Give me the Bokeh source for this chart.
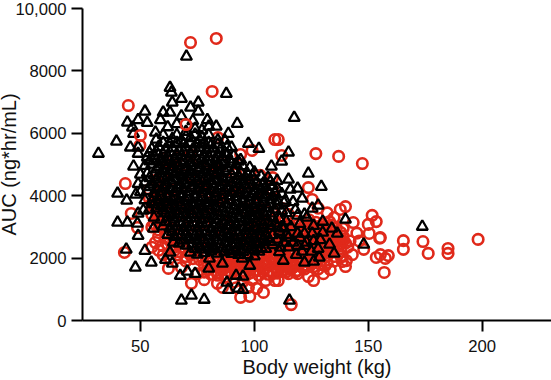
import math
from bokeh.plotting import figure
from bokeh.models import Range1d, FixedTicker
from bokeh.embed import file_html
from bokeh.resources import INLINE

x_ticks = [50, 100, 150, 200]
y_ticks = [0, 2000, 4000, 6000, 8000, 10000]
y_labels = {0: "0", 2000: "2000", 4000: "4000", 6000: "6000", 8000: "8000", 10000: "10,000"}
x_title = "Body weight (kg)"
y_title = "AUC (ng*hr/mL)"

red_outer = [(72,8910),(83.3,9040),(81.5,7340),(44.7,6890),(49.8,5610),(84,5860),(109,5800),(94,5320),(99,5450),(43.4,4390),(102.6,4650),(108,4580),
 (110.5,5800),(127,5350),(137,5260),(147.4,5030),(112,5290),(123.7,4260),(125.4,3880),(140,3650),(137.7,3560),(151.7,3370),(153.5,3170),(143.4,3140),(150,3080),(150.4,2790),(155.3,2660),(155,2640),(165.4,2560),(165.4,2280),(174,2530),(176.3,2150),(185,2310),(185,2150),(198.2,2600),(158.8,2080),(155.3,2110),(153.5,2020),(157.5,1990),(157,1540),(148,2280),(143,2110),(140,1730),(140.4,1920),(138.6,1890),(133.3,1630),(130.3,1500),(126,1280),(123.7,1410),(119,1500),(115,1500),(110.5,1280),
 (43,2180),(46,3430),(48.7,2980),(56.6,2500),(55,2350),(59.6,2400),(58,2250),(62.3,1670),(72.4,1190),(78,1310),(83.8,1190),(86,1060),(94,740),(98,770),(104,900),(105,1280),(101,1030),(97.4,1060),(109,1280),(116.2,510),(88,1400),(91,1230),(84,1450),(75,1500),(68,1700),(63,2000),(60,2100),(65,2250),
 (145,2800),(142,2550),(146,2550),(139,2950),(141,2350),(137,2150),(135,1900),(131,1750),(128,1650),(122,1650),(117,1700),(112,1600),(108,1500),(102,1450),(99,1300),(95,1250),(92,1050),(135,3300),(132,3450),(128,3600)]

red_dense = [(100,3200),(103,3150),(106,3100),(109,3210),(112,3140),(115,3080),(118,3190),(121,3120),(124,3230),(127,3150),(130,3090),(133,3170),
 (100,2950),(103,2880),(106,2980),(109,2900),(112,2960),(115,2870),(118,2950),(121,2890),(124,2980),(127,2900),(130,2950),(133,2870),(136,2960),(139,2700),
 (98,2700),(101,2650),(104,2730),(107,2660),(110,2720),(113,2640),(116,2700),(119,2660),(122,2730),(125,2650),(128,2710),(131,2640),(134,2700),(137,2630),(140,2480),
 (96,2450),(99,2400),(102,2480),(105,2410),(108,2470),(111,2390),(114,2450),(117,2410),(120,2480),(123,2400),(126,2460),(129,2390),(132,2450),(135,2400),(138,2300),
 (94,2200),(97,2150),(100,2230),(103,2160),(106,2220),(109,2140),(112,2200),(115,2160),(118,2230),(121,2150),(124,2210),(127,2140),(130,2200),(133,2150),
 (90,1950),(93,1900),(96,1980),(99,1910),(102,1970),(105,1890),(108,1950),(111,1910),(114,1980),(117,1900),(120,1960),(123,1890),(126,1950),(129,1900),
 (82,1750),(85,1700),(88,1780),(91,1710),(94,1770),(97,1690),(100,1750),(103,1710),(106,1780),(109,1700),(112,1760),(115,1690),(118,1750),(121,1700),
 (76,1950),(79,1900),(82,2000),(85,1950),(88,2050),(72,2100),(75,2200),(70,1900),(66,2100),
 (78,1550),(81,1480),(90,1500),(94,1480),(98,1520),(104,1550),
 (55,3000),(57,3200),(59,3000),(55,3400),(58,3500),(56,3700),(59,3800),(54,3900),(57,4050),(60,3300),(61,2800),(58,2700),(62,3050),(64,2700),(66,2500),(68,2350),(62,2450),
 (62,4800),(66,5200),(70,4400),(73,5000),(76,3500),(80,4500),(83,3700),(86,5000),(90,3300),(93,4200),(96,3600),(100,4400),(104,3900),(108,4200),(112,3600),(115,3400),(68,3100),(74,2800),(80,2600),(86,2900),(92,2500),(64,3800),(70,3500),(78,3100),(88,4000),(98,3000)]

red_fill = [(101,3060),(104,3020),(107,3200),(110,3050),(113,3030),(116,3000),(119,3060),(122,3020),(125,3090),(128,3010),(131,3020),(134,3060),
 (99,2830),(102,2780),(105,2850),(108,2790),(111,2840),(114,2770),(117,2830),(120,2780),(123,2850),(126,2780),(129,2830),(132,2770),(135,2830),(138,2820),
 (97,2580),(100,2530),(103,2600),(106,2540),(109,2590),(112,2520),(115,2580),(118,2530),(121,2600),(124,2530),(127,2580),(130,2520),(133,2580),(136,2520),
 (95,2330),(98,2280),(101,2350),(104,2290),(107,2340),(110,2270),(113,2330),(116,2280),(119,2350),(122,2280),(125,2340),(128,2270),(131,2320),(134,2280),
 (92,2070),(95,2030),(98,2080),(101,2040),(104,2090),(107,2030),(110,2070),(113,2030),(116,2090),(119,2030),(122,2070),(125,2030),(128,2080),(131,2030),
 (84,1850),(87,1830),(90,1840),(93,1800),(96,1850),(99,1800),(102,1850),(105,1790),(108,1840),(111,1790),(114,1850),(117,1790),(120,1840),(123,1780),
 (56,3100),(58,3350),(56,3550),(58,3650),(55,3750),(57,3900),(60,3150),
 (106,2500),(110,2450),(114,2520),(118,2600),(122,2560),(126,2620),(130,2460),(134,2500),(105,2200),(109,2250),(113,2110),(117,2130),(121,2300),(125,2130),(129,2190),(110,2960),(114,2910),(118,2870),(122,2920),(126,2860),(130,2760),(134,2880),(113,2700),(117,2760),(121,2720),(125,2710),(129,2650),(133,2680),
 (60,5200),(64,5000),(68,4700),(72,5300),(76,4600),(80,5100),(84,4800),(88,4500),(92,4700),(58,4400),(63,4200),(68,4000),(74,4300),(79,4100),(85,3900),(90,4300),(96,4100),(101,3700),(106,3500),(66,3600),(72,3300),(82,3400),(88,3100),(94,2900),(100,3400),(108,3050),(76,2500),(84,2300),(90,2700),(70,2700),(62,3500),(57,4500),(54,4200)]

red_bottom = [(80,1640),(83,1600),(86,1620),(89,1580),(92,1630),(95,1590),(98,1640),(101,1590),(104,1640),(107,1600),(110,1650),(113,1610),(116,1640),(119,1600),(122,1760),(125,1800),
 (84,1540),(87,1500),(92,1500),(96,1420),(100,1600),(106,1480),(110,1520),(114,1560),(118,1560),(126,1720),(129,1800),(132,1850),(135,2050),(138,2050),(137,2430),(139,2550),(136,2740),(133,2950),
 (58,2900),(60,3450),(60,3650),(58,4100),(61,2650),(63,2550),(65,2350),(67,2200),(70,2050),(73,1980),(64,2900),(77,2050),(81,1850),(73,2350),(78,1800)]

black_outer = [(31.6,5350),(39.5,5740),(44.3,6350),(49,6430),(52,6700),(53,6340),(46.5,6190),(47,5990),(45.6,5550),(49,5550),(49,5350),(47,4940),(70.2,8460),(63,7460),(63.6,7310),(68,7110),(64,6990),(75.4,6990),(72,6830),(75.4,6700),(60,6670),(63,6670),(58.8,6430),(79.4,6430),(87.7,7270),(92.5,6310),(83.3,6220),(80,6220),(74,6150),(88.6,5990),(97.4,5670),(102,5510),(107.5,4940),(56.6,6030),(87,5770),(90,5550),
 (117.5,6500),(115,5390),(112,5100),(123.7,4710),(129.4,4290),(115,4520),(119,4230),(110,4230),(115.8,4200),(121,3910),(128,3690),(125.4,3590),(113.6,3850),(119,3370),(140,3240),(130,3170),(126,3040),(134,2950),(136.4,2790),(173.7,3010),(148,2440),(133,2440),(135,2150),(130,2820),(125.4,2790),(119,2790),(122,2790),(115,2660),(121,2210),(125,2210),(118.4,2110),(128.5,2020),(122,1860),(126,1890),(112.7,1920),(111.4,2340),(115.4,640),
 (68,640),(72.4,800),(78,670),(47.8,1700),(43.8,2280),(52,2240),(54.8,1860),(61,1950),(64,1830),(63,2180),(67.5,1440),(70.6,1570),(74,1500),(80,1670),(88,1220),(88.6,990),(92,1440),(95,1410),(93,1030),(95,990),(98,1760),(86,1830),(94.7,1990),(80.3,1990),(102,2210),(40,3140),(44.3,3140),(48.7,3110),(49,2720),(44,3850),(49,3430),(51.3,3530),(40,4070),(48,4040),(55.7,2950),(64.5,2500)]

black_dense = [(62,6200),(66,6300),(70,6050),(73,6400),(77,6100),(80,5950),(68,6550),(57,5800),(60,5950),(64,5820),(68,5780),(72,5850),(76,5790),(80,5700),(84,5780),(88,5560),
 (55,5500),(58,5560),(61,5480),(64,5530),(67,5460),(70,5550),(73,5490),(76,5540),(79,5470),(82,5520),(85,5470),(88,5340),(91,5280),(94,5150),
 (53,5230),(56,5280),(59,5200),(62,5250),(65,5190),(68,5270),(71,5200),(74,5260),(77,5190),(80,5250),(83,5180),(86,5240),(89,5170),(92,5000),(95,4950),(98,4900),
 (52,4960),(55,5000),(58,4930),(61,4990),(64,4920),(67,4980),(70,4910),(73,4970),(76,4900),(79,4960),(82,4890),(85,4950),(88,4880),(91,4800),(94,4740),(97,4700),(100,4750),(103,4620),(106,4580),
 (50,4680),(53,4720),(56,4660),(59,4710),(62,4640),(65,4700),(68,4630),(71,4690),(74,4620),(77,4680),(80,4610),(83,4670),(86,4600),(89,4540),(92,4520),(95,4460),(98,4500),(101,4440),(104,4400),(107,4450),(110,4480),
 (49,4380),(52,4430),(55,4370),(58,4420),(61,4350),(64,4410),(67,4340),(70,4400),(73,4330),(76,4390),(79,4320),(82,4380),(85,4310),(88,4260),(91,4240),(94,4180),(97,4230),(100,4160),(103,4210),(106,4150),(109,4100),(112,4060),
 (50,4120),(53,4150),(56,4080),(59,4140),(62,4070),(65,4130),(68,4060),(71,4120),(74,4050),(77,4110),(80,4040),(83,4100),(86,4030),(89,3990),(92,3960),(95,3910),(98,3970),(101,3890),(104,3950),(107,3880),(110,3840),(113,3780),
 (52,3860),(55,3810),(58,3870),(61,3800),(64,3860),(67,3790),(70,3850),(73,3780),(76,3840),(79,3770),(82,3830),(85,3760),(88,3720),(91,3690),(94,3640),(97,3700),(100,3620),(103,3680),(106,3610),(109,3570),(112,3520),
 (54,3560),(57,3600),(60,3530),(63,3590),(66,3520),(69,3580),(72,3510),(75,3570),(78,3500),(81,3560),(84,3490),(87,3450),(90,3420),(93,3370),(96,3430),(99,3350),(102,3410),(105,3340),(108,3300),(111,3250),(114,3180),
 (56,3300),(59,3240),(62,3310),(65,3250),(68,3300),(71,3240),(74,3290),(77,3230),(80,3280),(83,3220),(86,3180),(89,3150),(92,3100),(95,3160),(98,3080),(101,3140),(104,3070),(107,3030),(110,2980),(113,2950),
 (60,3020),(63,2960),(66,3020),(69,2970),(72,3010),(75,2950),(78,3000),(81,2940),(84,2980),(87,2920),(90,2870),(93,2820),(96,2880),(99,2800),(102,2860),(105,2790),(108,2740),
 (62,2750),(65,2690),(68,2740),(71,2680),(74,2730),(77,2670),(80,2720),(83,2660),(86,2700),(89,2640),(92,2590),(95,2550),(98,2610),(101,2530),(104,2590),(107,2520),
 (67,2470),(70,2410),(73,2460),(76,2400),(79,2450),(82,2390),(85,2440),(88,2380),(91,2340),(94,2280),(97,2340),(100,2270),(103,2330),
 (72,2180),(75,2120),(78,2170),(81,2220),(84,2150),(87,2200),(90,2140),(93,2110),(97,2100),(100,2060),(105,2300),(108,2420)]

black_fill = [(60,5700),(63,5660),(66,5700),(69,5650),(72,5690),(75,5640),(78,5680),(81,5620),(84,5640),(66,5950),(70,5900),(74,5960),(77,5880),
 (54,5370),(57,5410),(60,5340),(63,5390),(66,5330),(69,5400),(72,5340),(75,5390),(78,5330),(81,5380),(84,5320),(87,5380),
 (54,5110),(57,5130),(60,5080),(63,5120),(66,5060),(69,5110),(72,5050),(75,5110),(78,5040),(81,5100),(84,5030),(87,5090),(90,5020),(93,5100),
 (57,4850),(60,4790),(63,4840),(66,4770),(69,4830),(72,4760),(75,4820),(78,4750),(81,4820),(84,4740),(87,4800),(90,4690),(93,4630),(96,4590),(99,4620),
 (54,4570),(57,4520),(60,4560),(63,4500),(66,4550),(69,4490),(72,4540),(75,4480),(78,4540),(81,4470),(84,4530),(87,4450),(90,4400),(93,4360),(96,4340),(99,4330),(102,4310),(105,4290),(108,4320),
 (54,4280),(57,4230),(60,4270),(63,4220),(66,4260),(69,4210),(72,4250),(75,4190),(78,4250),(81,4180),(84,4240),(87,4170),(90,4110),(93,4080),(96,4050),(99,4060),(102,4040),(105,4020),(108,3980),
 (56,3950),(59,3990),(62,3930),(65,3980),(68,3920),(71,3970),(74,3910),(77,3970),(80,3900),(83,3960),(86,3880),(89,3850),(92,3810),(95,3770),(98,3820),(101,3750),(104,3810),(107,3730),(110,3690),
 (56,3730),(59,3670),(62,3720),(65,3660),(68,3700),(71,3650),(74,3700),(77,3640),(80,3690),(83,3630),(86,3600),(89,3570),(92,3520),(95,3560),(98,3490),(101,3540),(104,3470),(107,3440),
 (61,3440),(64,3390),(67,3430),(70,3380),(73,3420),(76,3370),(79,3410),(82,3360),(85,3340),(88,3300),(91,3260),(94,3290),(97,3220),(100,3270),(103,3200),(106,3170),(109,3120),
 (61,3160),(64,3110),(67,3150),(70,3100),(73,3140),(76,3090),(79,3130),(82,3080),(85,3060),(88,3030),(91,2980),(94,3010),(97,2950),(100,2990),(103,2930),
 (64,2840),(67,2870),(70,2820),(73,2860),(76,2810),(79,2850),(82,2800),(85,2830),(88,2780),(91,2720),(94,2690),(97,2740),(100,2670),(103,2720),(106,2650),
 (69,2570),(72,2600),(75,2550),(78,2590),(81,2530),(84,2570),(87,2510),(90,2470),(93,2420),(96,2470),(99,2410),(102,2450),
 (74,2300),(77,2280),(80,2330),(83,2290),(86,2320),(89,2260),(92,2220),(95,2200),
 (111,2850),(114,2750),(117,2500),(120,2650),(123,2500),(126,2550),(129,2580),(116,3000),(120,3100),(123,3300),(118,3550),(114,3450),(117,3800),(122,3400),(110,2600),(113,2500),(111,2200),(115,2350),(119,2400),(128,2300),(122,2400),(112,3000)]

red_top = [(70,6280),(50,5930)]

rx, ry = zip(*(red_outer + red_dense + red_fill + red_bottom))
bx, by = zip(*(black_outer + black_dense + black_fill))
tx, ty = zip(*red_top)

RED = "#E0291A"
p = figure(width=557, height=380, output_backend="svg", toolbar_location=None,
           x_range=Range1d(24.6, 230.4), y_range=Range1d(0, 10000),
           min_border_left=88, min_border_right=0, min_border_top=8, min_border_bottom=60)
p.margin = (0, 0, 0, -6)
p.outline_line_color = None
p.grid.visible = False
p.background_fill_color = "white"

p.scatter(rx, ry, marker="circle", size=10.5, fill_color=None, line_color=RED, line_width=2.6)
p.scatter(bx, by, marker="triangle", size=11, fill_color=None, line_color="black", line_width=2.3)
p.scatter(tx, ty, marker="circle", size=10.5, fill_color=None, line_color=RED, line_width=2.6)

for ax, title, ticks in ((p.xaxis[0], x_title, x_ticks), (p.yaxis[0], y_title, y_ticks)):
    ax.axis_label = title
    ax.ticker = FixedTicker(ticks=ticks)
    ax.axis_line_width = 2
    ax.major_tick_line_width = 2
    ax.major_tick_out = 11
    ax.major_tick_in = 0
    ax.minor_tick_line_color = None
    ax.major_label_text_font = "Liberation Sans"
    ax.major_label_text_font_size = "16.7px"
    ax.major_label_text_color = "#111111"
    ax.axis_label_text_font = "Liberation Sans"
    ax.axis_label_text_font_size = "20px"
    ax.axis_label_text_font_style = "normal"
    ax.axis_label_text_color = "#111111"
    ax.axis_label_text_line_height = 0.6
p.yaxis[0].major_label_overrides = y_labels
p.yaxis[0].axis_label_standoff = -8
p.xaxis[0].axis_label_standoff = 1
p.xaxis[0].major_label_standoff = 8

open("out.html", "w").write(file_html(p, INLINE))
